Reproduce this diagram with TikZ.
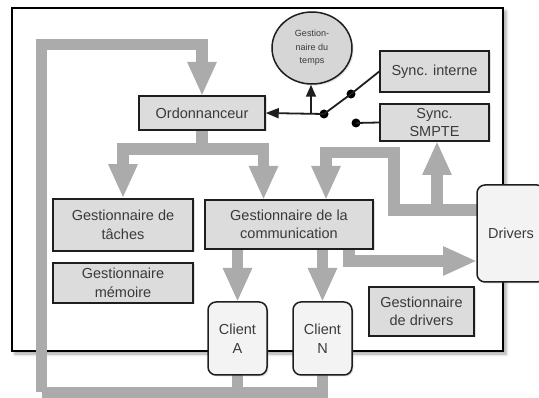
\documentclass[tikz,border=0pt]{standalone}
\usepackage{fontspec}
\setmainfont{Liberation Sans}
\usetikzlibrary{arrows.meta,shapes.geometric,shadows,shadows.blur}
\definecolor{arrowgray}{HTML}{ABABAB}
\definecolor{boxfill}{HTML}{DCDCDC}
\definecolor{lightfill}{HTML}{F3F3F3}
\definecolor{circfill}{HTML}{D6D6D6}
\definecolor{txt}{HTML}{3A3A3A}
\definecolor{edge}{HTML}{1E1E1E}
\begin{document}
\begin{tikzpicture}[x=1pt,y=-1pt,
  gbar/.style={draw=arrowgray, line width=11.5pt, line join=miter},
  garrow/.style={gbar, -{Triangle[width=27pt,length=34pt]}},
  box/.style={draw=edge, line width=1.5pt, fill=boxfill, text=txt,
    font=\fontsize{14.5}{18.5}\selectfont, align=center, inner sep=0pt,
    drop shadow={shadow xshift=1.5pt, shadow yshift=-1.5pt, opacity=0.25}},
  rbox/.style={box, fill=lightfill, rounded corners=8pt},
  swdot/.style={circle, fill=black, inner sep=0pt, minimum size=9pt},
  wire/.style={draw=edge, line width=1.8pt},
  frame/.style={draw=black, line width=2pt, fill=white, inner sep=0pt,
    blur shadow={shadow xshift=3pt, shadow yshift=-3pt, shadow blur radius=3pt, shadow opacity=35}},
]
\useasboundingbox (0,0) rectangle (539,398);
\clip (0,0) rectangle (539,398);

% outer frame
\node[frame, minimum width=491pt, minimum height=343pt] (frame) at (257.5,179.5) {};

% helper coordinates
\coordinate (loopBL) at (41.5,392.5);
\coordinate (loopTL) at (41.5,44.5);
\coordinate (loopTR) at (202,44.5);
\coordinate (split) at (202,149);
\coordinate (commL) at (263.5,200);
\coordinate (cdA) at (349,249);
\coordinate (dj) at (394,210);
\coordinate (dk) at (394,152.5);
\coordinate (dl) at (326,152.5);
\coordinate (commR) at (326,200);
\coordinate (smU) at (437,210);
\coordinate (smT) at (437,141);
\coordinate (tap) at (311,114);
\coordinate (drvIn) at (477,261);
\coordinate (drvOut) at (477,210);
\coordinate (cAbot) at (237.5,375);
\coordinate (cNbot) at (322.5,375);
\coordinate (cAtop) at (237.5,302);
\coordinate (cNtop) at (322.5,302);

% boxes
\path
  node[box, minimum width=140pt, minimum height=52pt] (tasks) at (123,225) {Gestionnaire de\\tâches}
  node[box, minimum width=140pt, minimum height=40pt] (mem) at (123,283) {Gestionnaire\\mémoire}
  node[box, minimum width=109pt, minimum height=41pt] (interne) at (434.5,71.5) {Sync. interne}
  node[box, minimum width=109pt, minimum height=37pt] (smpte) at (434.5,122.5) {Sync.\\SMPTE}
  node[box, minimum width=105pt, minimum height=49pt] (drvmgr) at (421.5,311.5) {Gestionnaire\\de drivers}
  node[box, ellipse, fill=circfill, minimum width=80pt, minimum height=72pt,
       font=\fontsize{9}{13.5}\selectfont] (timer) at (312,48) {Gestion-\\naire du\\temps};

% gray arrows
\draw[gbar] (cNbot) |- (loopBL);
\draw[garrow] (loopBL) -- (loopTL) -- (loopTR) -- (202,96);
\draw[gbar] (cAbot) -- (cAbot |- loopBL);
\draw[gbar] (202,130) -- (split);
\draw[garrow] (split) -| (tasks.north);
\draw[garrow] (split) -| (commL);
\draw[garrow] (cAtop |- 0,249) -- (cAtop);
\draw[garrow] (cNtop |- 0,249) -- (cNtop);
\draw[garrow] (cdA) |- (drvIn);
\draw[garrow] (drvOut) -- (dj) -- (dk) -- (dl) -- (commR);
\draw[garrow] (smU) -- (smT);

% boxes touched by the arrows
\path
  node[box, minimum width=126pt, minimum height=34pt] (ord) at (202,113) {Ordonnanceur}
  node[box, minimum width=168pt, minimum height=49pt] (comm) at (289,224.5) {Gestionnaire de la\\communication};

% rounded boxes
\path
  node[rbox, minimum width=59pt, minimum height=73pt] (clientA) at (237.5,338.5) {Client\\A}
  node[rbox, minimum width=59pt, minimum height=73pt] (clientN) at (322.5,338.5) {Client\\N}
  node[rbox, minimum width=68pt, minimum height=97pt] (drivers) at (511,233.5) {Drivers};

% switch
\node[swdot] (d1) at (324,114) {};
\node[swdot] (d2) at (351,94) {};
\node[swdot] (d3) at (356,123) {};
\draw[wire, -{Triangle[width=10pt,length=13pt]}] (d1.center) -- (ord.east);
\draw[wire, -{Triangle[width=10pt,length=12pt]}] (tap) -- (tap |- timer.south);
\draw[wire] (d1.center) -- (d2.center);
\draw[wire] (d2.center) -- (interne.west);
\draw[wire] (d3.center) -- (smpte.west);
\end{tikzpicture}
\end{document}
